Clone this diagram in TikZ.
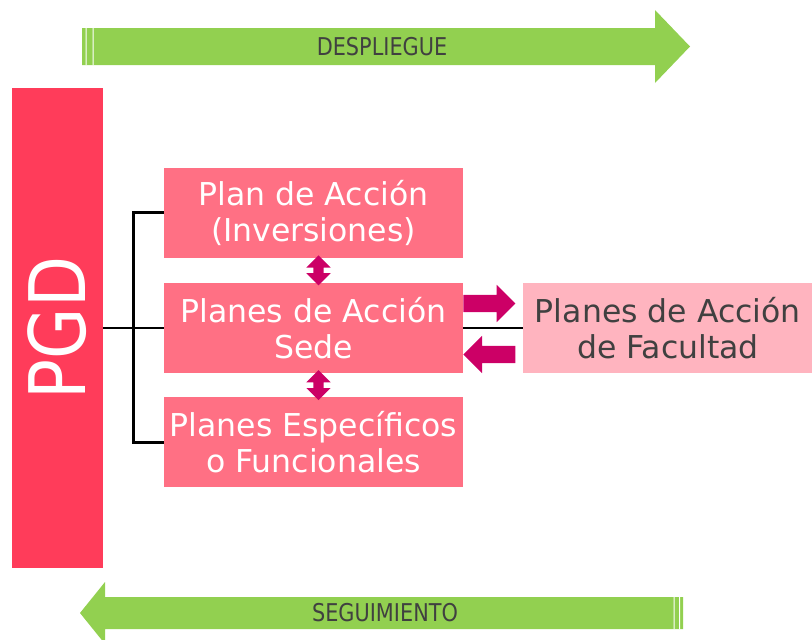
\documentclass[tikz,border=0pt]{standalone}
\usepackage{fontspec}
\setmainfont{DejaVu Sans}
\usetikzlibrary{positioning,calc,shapes.arrows}
\definecolor{pgdred}{HTML}{FF3C5A}
\definecolor{planpink}{HTML}{FF7084}
\definecolor{facpink}{HTML}{FFB4BF}
\definecolor{flowmag}{HTML}{CC0066}
\definecolor{flowgreen}{HTML}{92D050}
\definecolor{labelgray}{HTML}{404040}
\newcommand{\narrowtext}[1]{\scalebox{0.85}[1]{#1}}

\begin{document}
\begin{tikzpicture}[x=1pt,y=-1pt,
    plan/.style={fill=planpink,text=white,minimum width=299pt,minimum height=90pt,inner sep=0pt,align=center,font=\fontsize{31.5}{36}\selectfont},
    fac/.style={plan,fill=facpink,text=labelgray,minimum width=289pt},
    sidearrow/.style={single arrow,fill=flowmag,minimum height=52pt,inner xsep=0pt,inner ysep=8.5pt,text height=0pt,text depth=0pt,single arrow head extend=10pt},
    swaparrow/.style={double arrow,fill=flowmag,minimum height=30pt,inner xsep=5pt,inner ysep=0pt,text height=0pt,text depth=0pt,double arrow head extend=7pt,shape border rotate=90},
    arrowtext/.style={text=labelgray,font=\fontsize{24.5}{28}\selectfont},
    link/.style={line width=2.4pt}]
    \useasboundingbox (0,0) rectangle (812,640);
    % flow arrows
    \fill[flowgreen] (82,28) -- (655,28) -- (655,10) -- (690,46.5) -- (655,83) -- (655,65) -- (82,65) -- cycle;
    \fill[white] (85.5,28) rectangle (86.5,65) (92.5,28) rectangle (93.5,65);
    \node[arrowtext] (desp) at (382,47) {\narrowtext{DESPLIEGUE}};
    \fill[flowgreen] (683,597) -- (105,597) -- (105,582) -- (80,613) -- (105,644) -- (105,629) -- (683,629) -- cycle;
    \fill[white] (673.5,597) rectangle (674.5,629) (679,597) rectangle (680,629);
    \node[arrowtext] (seg) at (385,613) {\narrowtext{SEGUIMIENTO}};
    % plans
    \node[fill=pgdred,text=white,rotate=90,minimum width=480pt,minimum height=91pt,inner sep=0pt,font=\fontsize{78}{80}\selectfont] (pgd) at (57.5,328) {\scalebox{0.85}[1]{PGD}};
    \node[plan] (sede) at (313.5,328) {Planes de Acción\\Sede};
    \node[plan,above=25pt of sede] (inv) {Plan de Acción\\(Inversiones)};
    \node[plan,below=24pt of sede] (func) {Planes Específicos\\o Funcionales};
    \node[fac,right=60pt of sede] (fac) {Planes de Acción\\de Facultad};
    \coordinate (fork) at ($(pgd.south)!0.5!(sede.west)$);
    \draw[link]
        (pgd.south) -- (sede.west)
        (inv.west) -| (fork) |- (func.west)
        (sede.east) -- (fac.west);
    \node[sidearrow,anchor=tail,yshift=24.5pt] (push) at (sede.east) {};
    \node[sidearrow,shape border rotate=180,anchor=tip,yshift=-26.5pt] (pull) at (sede.east) {};
    \node[swaparrow,xshift=5pt] (up) at ($(inv.south)!0.5!(sede.north)$) {};
    \node[swaparrow,xshift=5pt] (down) at ($(sede.south)!0.5!(func.north)$) {};
\end{tikzpicture}
\end{document}
